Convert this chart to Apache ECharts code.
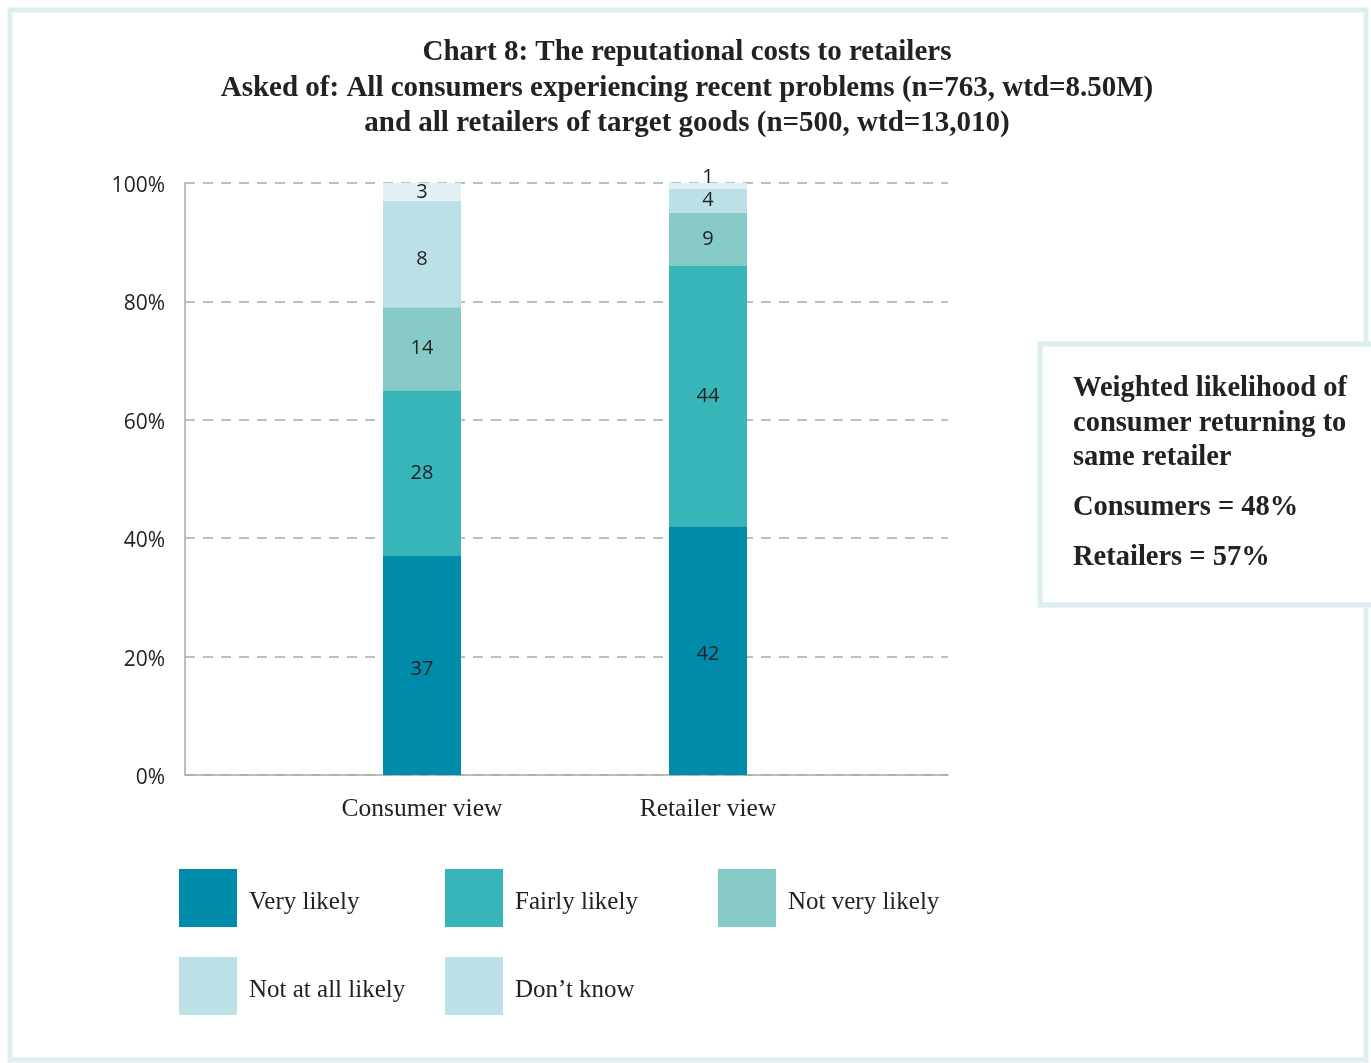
<!DOCTYPE html>
<html>
<head>
<meta charset="utf-8">
<script src="https://cdn.jsdelivr.net/npm/echarts@6/dist/echarts.min.js"></script>
<style>
html,body{margin:0;padding:0;background:#fff;}
#chart{width:1371px;height:1063px;}
</style>
</head>
<body>
<div id="chart"></div>
<script>
// ---- data ----
const categories = ['Consumer view', 'Retailer view'];
const seriesNames = ['Very likely', 'Fairly likely', 'Not very likely', 'Not at all likely', "Don\u2019t know"];
const veryLikely = [37, 42];
const fairlyLikely = [28, 44];
const notVeryLikely = [14, 9];
const notAtAllLikely = [18, 4];   // bar heights as drawn
const notAtAllLabels = ['8', '4']; // labels as printed in the reference
const dontKnow = [3, 1];
const yTicks = [0, 20, 40, 60, 80, 100];
const titleLines = [
  'Chart 8: The reputational costs to retailers',
  'Asked of: All consumers experiencing recent problems (n=763, wtd=8.50M)',
  'and all retailers of target goods (n=500, wtd=13,010)'
];
const boxLines = ['Weighted likelihood of', 'consumer returning to', 'same retailer'];
const boxStats = ['Consumers = 48%', 'Retailers = 57%'];

const colors = ['#008BAA', '#38B5B8', '#86CBC8', '#BBE1E6', '#E0F0F4'];
const legendColors = ['#008BAA', '#38B5B8', '#86CBC8', '#BBE1E6', '#BBE1E6'];
const serif = '"Liberation Serif", "DejaVu Serif", serif';
const sans = '"Open Sans", "Noto Sans", sans-serif';

const seriesData = [veryLikely, fairlyLikely, notVeryLikely, notAtAllLikely, dontKnow];

const series = seriesData.map((arr, i) => ({
  name: seriesNames[i],
  type: 'bar',
  stack: 'total',
  xAxisIndex: 1,
  yAxisIndex: 1,
  barWidth: 78,
  itemStyle: { color: colors[i] },
  label: {
    show: true,
    position: 'inside',
    color: '#222',
    fontFamily: sans,
    fontSize: 20,
    formatter: (p) => i === 3 ? notAtAllLabels[p.dataIndex] : String(p.value)
  },
  data: arr.map((v, j) => {
    if (i === 4 && j === 1) return { value: v, label: { offset: [0, -9] } };
    if (i === 3 && j === 0) return { value: v, label: { offset: [0, 5] } };
    if (i === 0) return { value: v, label: { offset: [0, 4] } };
    return v;
  })
}));

const legends = [
  { name: seriesNames[0], left: 179, top: 869 },
  { name: seriesNames[1], left: 445, top: 869 },
  { name: seriesNames[2], left: 718, top: 869 },
  { name: seriesNames[3], left: 179, top: 957 },
  { name: seriesNames[4], left: 445, top: 957 }
].map((l, i) => ({
  left: l.left, top: l.top,
  orient: 'horizontal',
  itemWidth: 58, itemHeight: 58,
  itemGap: 12,
  selectedMode: false,
  formatter: '{t|{name}}',
  textStyle: {
    fontFamily: serif, fontSize: 25, color: '#222',
    rich: { t: { fontFamily: serif, fontSize: 25, color: '#222', padding: [8, 0, 0, 7] } }
  },
  data: [{ name: l.name, icon: 'rect', itemStyle: { color: legendColors[i] } }],
  padding: 0
}));

const graphics = [
  { type: 'rect', shape: { x: 10, y: 10, width: 1356, height: 1050 }, style: { fill: 'none', stroke: '#DCEEF0', lineWidth: 5 }, z: 0 },
  { type: 'rect', shape: { x: 1040, y: 344, width: 345, height: 261 }, style: { fill: '#fff', stroke: '#DCEEF0', lineWidth: 5 }, z: 1 }
];
titleLines.forEach((t, i) => graphics.push({
  type: 'text', x: 687, y: 53 + i * 35.5, z: 2,
  style: { text: t, fontFamily: serif, fontWeight: 'bold', fontSize: 29, fill: '#222', align: 'center', verticalAlign: 'middle' }
}));
boxLines.forEach((t, i) => graphics.push({
  type: 'text', x: 1073, y: 389 + i * 34.5, z: 2,
  style: { text: t, fontFamily: serif, fontWeight: 'bold', fontSize: 28.5, fill: '#222', align: 'left', verticalAlign: 'middle' }
}));
boxStats.forEach((t, i) => graphics.push({
  type: 'text', x: 1073, y: 508 + i * 50, z: 2,
  style: { text: t, fontFamily: serif, fontWeight: 'bold', fontSize: 28.5, fill: '#222', align: 'left', verticalAlign: 'middle' }
}));

const option = {
  backgroundColor: '#fff',
  animation: false,
  grid: [
    { left: 185, width: 763, top: 183, height: 592 },
    { left: 279, width: 572, top: 183, height: 592 }
  ],
  legend: legends,
  xAxis: [
    { type: 'category', gridIndex: 0, data: ['', ''], axisLine: { show: true, lineStyle: { color: '#AAAAAA', width: 1.5 } }, axisTick: { show: false }, axisLabel: { show: false } },
    { type: 'category', gridIndex: 1, data: categories, axisLine: { show: false }, axisTick: { show: false },
      axisLabel: { fontFamily: serif, fontSize: 25.5, color: '#222', margin: 21 } }
  ],
  yAxis: [
    { type: 'value', gridIndex: 0, min: 0, max: 100, interval: 20,
      axisLine: { show: true, lineStyle: { color: '#AAAAAA', width: 1.5 } }, axisTick: { show: false },
      axisLabel: { fontFamily: sans, fontSize: 21, color: '#222', margin: 20,
        formatter: (v) => yTicks.includes(v) ? '{v|' + v + '%}' : '',
        rich: { v: { fontFamily: sans, fontSize: 21, color: '#222', padding: [6, 0, 0, 0] } } },
      splitLine: { show: true, lineStyle: { color: '#AAAAAA', type: [10, 8], width: 1.5 } } },
    { type: 'value', gridIndex: 1, min: 0, max: 100, interval: 20, show: false, splitLine: { show: false } }
  ],
  series: series,
  graphic: graphics
};

const chart = echarts.init(document.getElementById('chart'));
chart.setOption(option);
</script>
</body>
</html>
